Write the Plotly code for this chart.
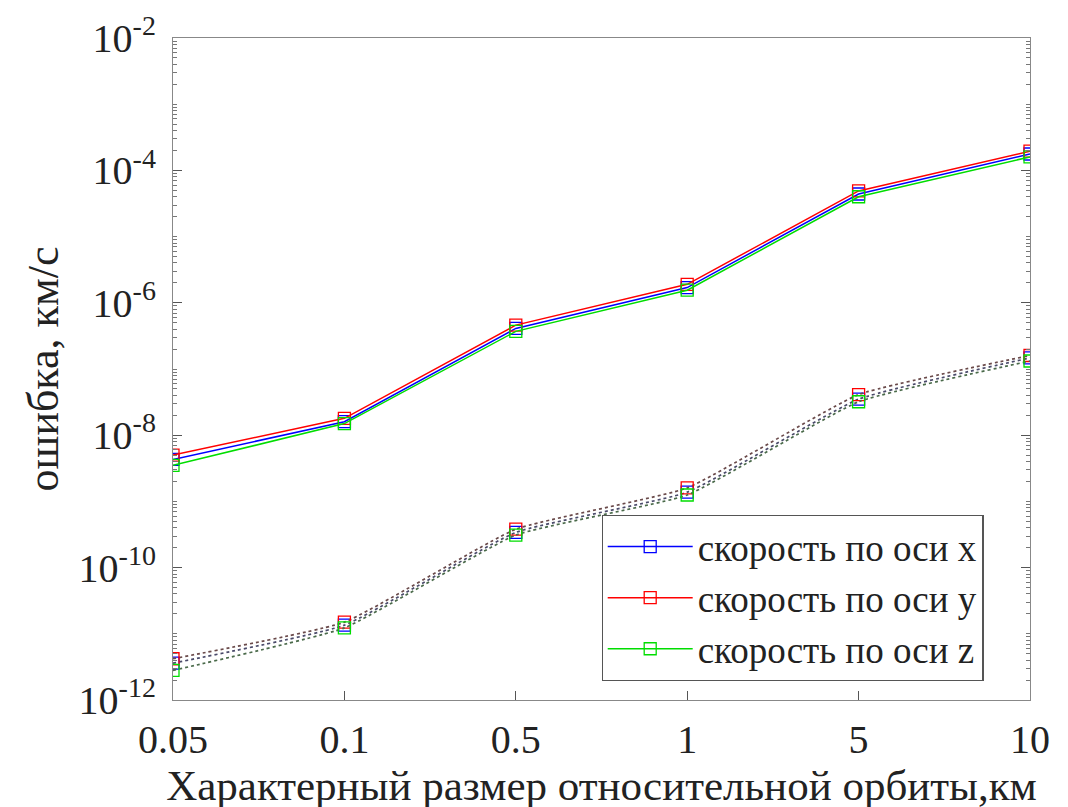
import plotly.graph_objects as go

categories = ["0.05", "0.1", "0.5", "1", "5", "10"]

vx_solid = [4.3e-9, 1.6e-8, 4.1e-7, 1.7e-6, 4.4e-5, 1.77e-4]
vy_solid = [5.0e-9, 1.8e-8, 4.6e-7, 1.9e-6, 4.9e-5, 1.95e-4]
vz_solid = [3.5e-9, 1.5e-8, 3.7e-7, 1.55e-6, 4.0e-5, 1.6e-4]

vx_dot = [3.6e-12, 1.35e-11, 3.4e-10, 1.38e-9, 3.5e-8, 1.47e-7]
vy_dot = [4.2e-12, 1.5e-11, 3.8e-10, 1.6e-9, 4.1e-8, 1.6e-7]
vz_dot = [2.8e-12, 1.23e-11, 3.1e-10, 1.25e-9, 3.2e-8, 1.32e-7]

names = ["скорость по оси x", "скорость по оси y", "скорость по оси z"]
colors = ["#0000ff", "#ff0000", "#00dd00"]
dot_colors = ["#4a4a6a", "#6a4a4a", "#4a6a4a"]

tick_vals = [1e-12, 1e-10, 1e-8, 1e-6, 1e-4, 1e-2]
tick_text = ["10<sup>-12</sup>", "10<sup>-10</sup>", "10<sup>-8</sup>",
             "10<sup>-6</sup>", "10<sup>-4</sup>", "10<sup>-2</sup>"]

fig = go.Figure()
for vals, name, c in zip([vx_solid, vy_solid, vz_solid], names, colors):
    fig.add_trace(go.Scatter(
        x=categories, y=vals, name=name, mode="lines+markers",
        line=dict(color=c, width=1.5),
        marker=dict(symbol="square-open", size=12, color=c, line=dict(width=1.3)),
    ))
for vals, c, mc in zip([vx_dot, vy_dot, vz_dot], dot_colors, colors):
    fig.add_trace(go.Scatter(
        x=categories, y=vals, mode="lines+markers", showlegend=False,
        line=dict(color=c, width=1.7, dash="dot", shape="spline", smoothing=0.4),
        marker=dict(symbol="square-open", size=12, color=mc, line=dict(width=1.3)),
    ))

font_family = "Liberation Serif"
fig.update_layout(
    width=1068, height=807,
    margin=dict(l=165, r=46, t=30, b=115, autoexpand=False),
    paper_bgcolor="white", plot_bgcolor="white",
    font=dict(family=font_family, size=40, color="#222222"),
    legend=dict(
        x=0.50, y=0.029, xanchor="left", yanchor="bottom",
        bgcolor="white", bordercolor="#555555", borderwidth=1.2,
        font=dict(size=37, family=font_family),
        itemwidth=85, tracegroupgap=0,
    ),
    xaxis=dict(
        type="category", range=[0, 5], automargin=False,
        showline=True, linecolor="#888888", linewidth=1.2, mirror=True,
        ticks="inside", ticklen=9, tickcolor="#555555",
        showgrid=False, zeroline=False,
        tickfont=dict(size=40, family=font_family),
        ticklabelstandoff=4,
        title=dict(text="Характерный размер относительной орбиты,км",
                   font=dict(size=43, family=font_family), standoff=0),
    ),
    yaxis=dict(
        type="log", range=[-12, -2], automargin=False,
        tickvals=tick_vals, ticktext=tick_text,
        showline=True, linecolor="#888888", linewidth=1.2, mirror="allticks",
        ticks="inside", ticklen=9, tickcolor="#555555",
        minor=dict(ticks="inside", ticklen=4, tickcolor="#777777", dtick="D1", showgrid=False),
        showgrid=False, zeroline=False,
        tickfont=dict(size=40, family=font_family),
        ticklabelstandoff=8,
        title=dict(text="ошибка, км/с", font=dict(size=44, family=font_family), standoff=6),
    ),
)

fig.write_html("out.html")
